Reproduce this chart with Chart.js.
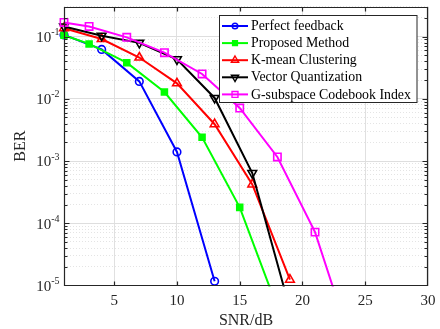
<!DOCTYPE html>
<html>
<head>
<meta charset="utf-8">
<script src="https://cdn.jsdelivr.net/npm/chart.js@4.4.0/dist/chart.umd.min.js"></script>
<style>
  html, body { margin: 0; padding: 0; background: #fff; }
  canvas { display: block; }
</style>
</head>
<body>
<canvas id="berChart" width="440" height="329"></canvas>
<script>
// values (SNR in dB, BER)
const seriesNames = ['Perfect feedback', 'Proposed Method', 'K-mean Clustering', 'Vector Quantization', 'G-subspace Codebook Index'];
const snrPerfect = [1, 4, 7, 10, 13];
const berPerfect = [0.106, 0.062, 0.019, 0.0014, 1.17e-5];
const snrProposed = [1, 3, 6, 9, 12, 15, 18];
const berProposed = [0.105, 0.076, 0.038, 0.0128, 0.0024, 1.8e-4, 4.4e-6];
const snrKmean = [1, 4, 7, 10, 13, 16, 19];
const berKmean = [0.136, 0.091, 0.046, 0.0177, 0.0039, 4.2e-4, 1.24e-5];
const snrVQ = [1, 4, 7, 10, 13, 16, 19];
const berVQ = [0.145, 0.103, 0.079, 0.043, 0.0103, 6.4e-4, 4.2e-6];
const snrGsub = [1, 3, 6, 9, 12, 15, 18, 21, 24];
const berGsub = [0.168, 0.145, 0.097, 0.055, 0.025, 0.0071, 0.00116, 7.2e-5, 1e-6];
const xTicks = [5, 10, 15, 20, 25, 30];
const yDecades = [-5, -4, -3, -2, -1];

const FONT = '"Liberation Serif", "Times New Roman", serif';
const AXIS = '#262626';

const pts = (xs, ys) => xs.map((x, i) => ({ x: x, y: ys[i] }));
const isMajor = v => Math.abs(Math.log10(v) - Math.round(Math.log10(v))) < 1e-6;

// marker styles, also used for the legend
const styles = [
  { color: '#0000ff', pointStyle: 'circle', radius: 3.8, legendRadius: 2.8, rotation: 0, fill: false },
  { color: '#00ff00', pointStyle: 'rect', radius: 4.2, legendRadius: 3.4, rotation: 0, fill: true },
  { color: '#ff0000', pointStyle: 'triangle', radius: 5, legendRadius: 4.2, rotation: 0, fill: false },
  { color: '#000000', pointStyle: 'triangle', radius: 5, legendRadius: 4.2, rotation: 180, fill: false },
  { color: '#ff00ff', pointStyle: 'rect', radius: 5.2, legendRadius: 4.2, rotation: 0, fill: false }
];
const seriesData = [
  pts(snrPerfect, berPerfect),
  pts(snrProposed, berProposed),
  pts(snrKmean, berKmean),
  pts(snrVQ, berVQ),
  pts(snrGsub, berGsub)
];

const datasets = seriesNames.map((name, i) => ({
  label: name,
  data: seriesData[i],
  borderColor: styles[i].color,
  backgroundColor: styles[i].color,
  borderWidth: 2,
  tension: 0,
  pointStyle: styles[i].pointStyle,
  pointRotation: styles[i].rotation,
  pointRadius: styles[i].radius,
  pointHoverRadius: styles[i].radius,
  pointBorderWidth: 1.6,
  pointBorderColor: styles[i].color,
  pointBackgroundColor: styles[i].fill ? styles[i].color : 'rgba(0,0,0,0)',
  order: seriesNames.length - i,
  clip: { left: 8, top: 8, right: 8, bottom: 1 }
}));

// box, inward ticks, labels and legend drawn the matlab way
const matlabAxes = {
  id: 'matlabAxes',
  afterDraw(chart) {
    const { ctx, chartArea: a, scales } = chart;
    const xs = scales.x, ys = scales.y;
    const L = Math.round(a.left) + 0.5, R = Math.round(a.right) - 0.5;
    const T = Math.round(a.top) + 0.5, B = Math.round(a.bottom) - 0.5;
    ctx.save();
    ctx.strokeStyle = AXIS;
    ctx.lineWidth = 1.2;
    ctx.beginPath();
    ctx.rect(L, T, R - L, B - T);
    // x ticks top and bottom
    xTicks.forEach(v => {
      const px = Math.round(xs.getPixelForValue(v)) + 0.5;
      if (px > R - 1) return;
      ctx.moveTo(px, B); ctx.lineTo(px, B - 4);
      ctx.moveTo(px, T); ctx.lineTo(px, T + 4);
    });
    // y ticks left and right
    ys.ticks.forEach(t => {
      const py = Math.round(ys.getPixelForValue(t.value)) + 0.5;
      if (py < T + 1 || py > B - 1) return;
      const len = isMajor(t.value) ? 5 : 3;
      ctx.moveTo(L, py); ctx.lineTo(L + len, py);
      ctx.moveTo(R, py); ctx.lineTo(R - len, py);
    });
    ctx.stroke();

    // tick labels
    ctx.fillStyle = '#262626';
    ctx.textBaseline = 'middle';
    ctx.textAlign = 'center';
    ctx.font = '15px ' + FONT;
    xTicks.forEach(v => {
      ctx.fillText(String(v), xs.getPixelForValue(v), a.bottom + 15.5);
    });
    yDecades.forEach(k => {
      const py = ys.getPixelForValue(Math.pow(10, k));
      const exp = '-' + (-k);
      ctx.font = '10px ' + FONT;
      const we = ctx.measureText(exp).width;
      ctx.textAlign = 'left';
      const right = a.left - 4.5;
      ctx.fillText(exp, right - we, py - 4);
      ctx.font = '15px ' + FONT;
      ctx.textAlign = 'right';
      ctx.fillText('10', right - we, py + 1.5);
    });

    // axis titles
    ctx.textAlign = 'center';
    ctx.font = '16px ' + FONT;
    ctx.fillText('SNR/dB', (a.left + a.right) / 2, a.bottom + 35);
    ctx.save();
    ctx.translate(21, (a.top + a.bottom) / 2);
    ctx.rotate(-Math.PI / 2);
    ctx.fillText('BER', 0, 0);
    ctx.restore();

    // legend
    const lx = 219.5, ly = 15.5, lw = 197.5, lh = 87;
    ctx.fillStyle = '#fff';
    ctx.fillRect(lx, ly, lw, lh);
    ctx.strokeStyle = AXIS;
    ctx.lineWidth = 1;
    ctx.strokeRect(lx, ly, lw, lh);
    ctx.font = '13px ' + FONT;
    const longest = ctx.measureText(seriesNames[4]).width;
    const fs = Math.min(14, 13 * 160 / longest);
    ctx.font = fs.toFixed(2) + 'px ' + FONT;
    ctx.textAlign = 'left';
    seriesNames.forEach((name, i) => {
      const cy = 26 + i * 17.1;
      const s = styles[i];
      ctx.strokeStyle = s.color;
      ctx.lineWidth = 2;
      ctx.beginPath();
      ctx.moveTo(222, cy); ctx.lineTo(248, cy);
      ctx.stroke();
      ctx.lineWidth = 1.4;
      ctx.fillStyle = s.fill ? s.color : 'rgba(0,0,0,0)';
      Chart.helpers.drawPoint(ctx, { pointStyle: s.pointStyle, rotation: s.rotation, radius: s.legendRadius, borderWidth: 1.4 }, 235, cy);
      ctx.fillStyle = '#000';
      ctx.fillText(name, 251, cy + 0.5);
    });
    ctx.restore();
  }
};

new Chart(document.getElementById('berChart'), {
  type: 'line',
  data: { datasets: datasets },
  options: {
    responsive: false,
    animation: false,
    layout: { padding: { left: 64, right: 12, top: 4, bottom: 43.5 } },
    plugins: { legend: { display: false }, tooltip: { enabled: false } },
    scales: {
      x: {
        type: 'linear',
        min: 1,
        max: 30,
        afterBuildTicks: s => { s.ticks = xTicks.map(v => ({ value: v })); },
        ticks: { display: false },
        grid: { color: '#e0e0e0', lineWidth: 1, drawTicks: false },
        border: { display: false }
      },
      y: {
        type: 'logarithmic',
        min: 1e-5,
        max: 0.3,
        afterBuildTicks: s => {
          const t = [];
          yDecades.forEach(k => {
            for (let m = 1; m <= 9; m++) {
              const v = m * Math.pow(10, k);
              if (v <= 0.3 + 1e-9) t.push({ value: v, major: m === 1 });
            }
          });
          s.ticks = t;
        },
        ticks: { display: false, autoSkip: false },
        grid: {
          color: c => (c.tick && isMajor(c.tick.value)) ? '#dedede' : '#e4e4e4',
          lineWidth: 1,
          drawTicks: false
        },
        border: {
          display: false,
          dash: c => (c.tick && isMajor(c.tick.value)) ? [] : [1, 2]
        }
      }
    }
  },
  plugins: [matlabAxes]
});
</script>
</body>
</html>
